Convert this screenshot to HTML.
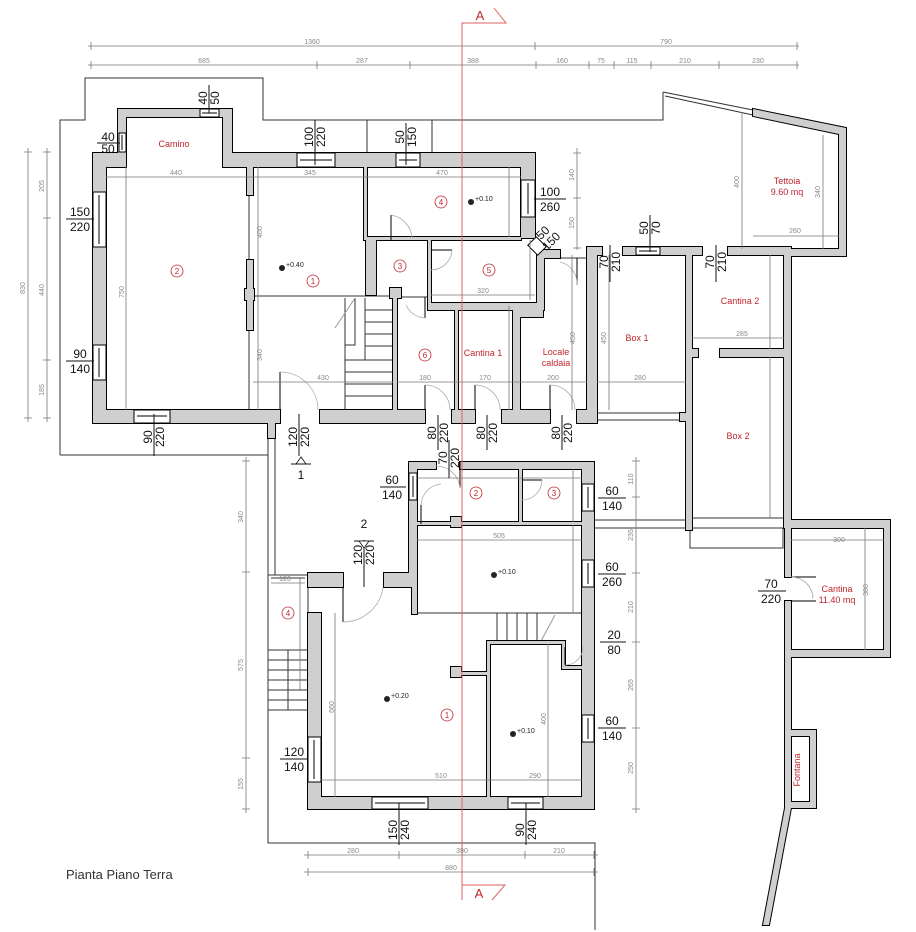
<!DOCTYPE html>
<html><head><meta charset="utf-8"><style>
html,body{margin:0;padding:0;background:#fff;}
svg{display:block;}
text{font-family:"Liberation Sans",sans-serif;}
.d{fill:#888;font-size:7px;text-anchor:middle;}
.f{fill:#111;font-size:12px;text-anchor:middle;}
.r{fill:#c0262c;font-size:9px;text-anchor:middle;}
.n{fill:#c0262c;font-size:8px;text-anchor:middle;}
</style></head><body>
<svg width="916" height="932" viewBox="0 0 916 932" xmlns="http://www.w3.org/2000/svg">
<defs>
<g id="wl">
<!-- upper block -->
<rect x="118" y="109" width="8" height="58"/><rect x="118" y="109" width="114" height="8"/><rect x="223" y="109" width="9" height="58"/>
<rect x="93" y="153" width="33" height="14"/><rect x="223" y="153" width="312" height="14"/>
<rect x="93" y="153" width="13" height="270"/>
<rect x="93" y="410" width="187" height="13"/><rect x="320" y="410" width="105" height="13"/><rect x="452" y="410" width="23" height="13"/><rect x="502" y="410" width="48" height="13"/><rect x="577" y="410" width="20" height="13"/>
<rect x="521" y="153" width="14" height="85"/>
<rect x="537" y="250" width="7" height="60"/>
<rect x="428" y="303" width="116" height="7"/>
<rect x="513" y="303" width="30" height="14"/>
<rect x="513" y="303" width="7" height="120"/>
<rect x="543" y="250" width="17" height="8"/>
<rect x="587" y="247" width="10" height="176"/>
<rect x="393" y="290" width="4" height="133"/><rect x="390" y="288" width="11" height="10"/>
<rect x="455" y="306" width="3" height="117"/>
<rect x="428" y="240" width="3" height="66"/>
<rect x="366" y="240" width="10" height="55"/>
<rect x="366" y="237" width="155" height="3"/>
<rect x="364" y="167" width="3" height="73"/>
<rect x="247" y="167" width="6" height="28"/><rect x="247" y="260" width="6" height="70"/><rect x="245" y="289" width="9" height="11"/>
<!-- right part -->
<rect x="597" y="247" width="5" height="8"/><rect x="623" y="247" width="79" height="8"/><rect x="728" y="247" width="63" height="8"/>
<rect x="686" y="247" width="6" height="283"/><rect x="784" y="247" width="7" height="281"/>
<rect x="686" y="349" width="12" height="8"/><rect x="720" y="349" width="64" height="8"/>
<rect x="577" y="413" width="20" height="10"/><rect x="680" y="413" width="12" height="8"/>
<rect x="785" y="520" width="105" height="8"/><rect x="884" y="520" width="6" height="137"/><rect x="785" y="650" width="105" height="7"/>
<rect x="785" y="520" width="6" height="57"/><rect x="785" y="601" width="6" height="207"/>
<rect x="785" y="730" width="31" height="6"/><rect x="810" y="730" width="6" height="78"/><rect x="785" y="802" width="31" height="6"/>
<polygon points="785,808 791,808 769,925 763,925"/>
<polygon points="753,109 846,128 846,256 790,256 790,249 839,249 839,134 753,116"/>
<!-- lower block -->
<rect x="409" y="462" width="27" height="7"/><rect x="460" y="462" width="134" height="7"/>
<rect x="409" y="462" width="8" height="125"/><rect x="412" y="587" width="5" height="27"/>
<rect x="582" y="462" width="12" height="347"/>
<rect x="308" y="797" width="286" height="12"/>
<rect x="308" y="613" width="13" height="196"/>
<rect x="308" y="573" width="35" height="14"/><rect x="384" y="573" width="33" height="14"/>
<rect x="417" y="522" width="165" height="3"/><rect x="451" y="517" width="10" height="10"/>
<rect x="519" y="469" width="3" height="55"/>
<rect x="487" y="641" width="75" height="3"/><rect x="562" y="641" width="3" height="28"/><rect x="562" y="666" width="20" height="3"/>
<rect x="487" y="644" width="3" height="153"/><rect x="451" y="667" width="10" height="10"/><rect x="461" y="672" width="29" height="3"/>
<rect x="268" y="423" width="7" height="15"/>
</g>
</defs>
<!-- outline lines -->
<g fill="none" stroke="#333" stroke-width="1">
<polyline points="60,455 60,120 85,120 85,78 263,78 263,120 663,120 663,92"/>
<line x1="367" y1="120" x2="367" y2="153"/><line x1="432" y1="120" x2="432" y2="153"/>
<line x1="60" y1="455" x2="268" y2="455"/>
<polyline points="268,423 268,843 595,843 595,930"/>
<line x1="275" y1="423" x2="275" y2="575"/>
<line x1="663" y1="92" x2="753" y2="110"/><line x1="665" y1="96" x2="753" y2="115"/>
<line x1="594" y1="520" x2="686" y2="520"/><line x1="594" y1="528" x2="686" y2="528"/>
<rect x="690" y="528" width="93" height="20"/>
<line x1="692" y1="518" x2="784" y2="518"/>
<line x1="597" y1="413" x2="686" y2="413"/><line x1="597" y1="420" x2="686" y2="420"/>
<line x1="253" y1="296" x2="393" y2="296"/><line x1="249" y1="195" x2="249" y2="410"/>
<line x1="397" y1="297" x2="428" y2="297"/>
<line x1="417" y1="613" x2="487" y2="613"/><line x1="487" y1="613" x2="594" y2="613"/>
<line x1="560" y1="258" x2="587" y2="258"/>
<!-- stairs upper -->
<polyline points="345,298 345,410"/><polyline points="355,298 355,345 345,345"/>
<line x1="365" y1="298" x2="365" y2="360"/><line x1="345" y1="360" x2="393" y2="360"/>
<line x1="345" y1="372" x2="393" y2="372"/><line x1="345" y1="384" x2="393" y2="384"/><line x1="345" y1="396" x2="393" y2="396"/>
<line x1="365" y1="310" x2="393" y2="310"/><line x1="365" y1="322" x2="393" y2="322"/><line x1="365" y1="334" x2="393" y2="334"/><line x1="365" y1="346" x2="393" y2="346"/>
<line x1="335" y1="328" x2="355" y2="298" stroke="#999"/>
<!-- stairs lower -->
<line x1="497" y1="613" x2="497" y2="643"/><line x1="507" y1="613" x2="507" y2="643"/><line x1="517" y1="613" x2="517" y2="643"/><line x1="527" y1="613" x2="527" y2="643"/><line x1="537" y1="613" x2="537" y2="643"/>
<line x1="540" y1="643" x2="555" y2="615" stroke="#999"/>
<!-- stair 4 -->
<rect x="268" y="575" width="40" height="135"/>
<line x1="271" y1="578" x2="305" y2="578"/>
<line x1="268" y1="650" x2="308" y2="650"/><line x1="268" y1="660" x2="308" y2="660"/><line x1="268" y1="670" x2="308" y2="670"/><line x1="268" y1="680" x2="308" y2="680"/><line x1="268" y1="690" x2="308" y2="690"/><line x1="268" y1="700" x2="308" y2="700"/>
<line x1="288" y1="650" x2="288" y2="710"/>
</g>
<!-- walls -->
<g fill="#cfcfcf" stroke="#000" stroke-width="2"><use href="#wl"/></g>
<g fill="#cfcfcf" stroke="none"><use href="#wl"/></g>
<!-- windows -->
<g fill="#fff" stroke="#000" stroke-width="1">
<rect x="200" y="109" width="19" height="8"/><rect x="119" y="133" width="7" height="19"/>
<rect x="297" y="153" width="38" height="14"/><rect x="396" y="153" width="24" height="14"/>
<rect x="521" y="180" width="14" height="37"/>
<rect x="93" y="192" width="13" height="55"/><rect x="93" y="345" width="13" height="35"/>
<rect x="134" y="410" width="36" height="13"/>
<rect x="636" y="247" width="24" height="8"/>
<rect x="409" y="473" width="8" height="27"/>
<rect x="582" y="484" width="12" height="27"/><rect x="582" y="560" width="12" height="27"/><rect x="582" y="715" width="12" height="27"/>
<rect x="308" y="737" width="13" height="45"/>
<rect x="372" y="797" width="56" height="12"/><rect x="508" y="797" width="35" height="12"/>
<rect x="530" y="240" width="14" height="12" transform="rotate(45 537 246)"/>
</g>
<g stroke="#000" stroke-width="1">
<line x1="202" y1="113" x2="217" y2="113"/><line x1="122" y1="135" x2="122" y2="150"/>
<line x1="300" y1="160" x2="332" y2="160"/><line x1="399" y1="160" x2="417" y2="160"/>
<line x1="528" y1="183" x2="528" y2="214"/><line x1="99" y1="195" x2="99" y2="244"/><line x1="99" y1="348" x2="99" y2="377"/>
<line x1="137" y1="416" x2="167" y2="416"/><line x1="639" y1="251" x2="657" y2="251"/>
<line x1="413" y1="476" x2="413" y2="497"/><line x1="588" y1="487" x2="588" y2="508"/><line x1="588" y1="563" x2="588" y2="584"/><line x1="588" y1="718" x2="588" y2="739"/>
<line x1="314" y1="740" x2="314" y2="779"/><line x1="375" y1="803" x2="425" y2="803"/><line x1="511" y1="803" x2="540" y2="803"/>
<!-- door leaves -->
<line x1="280" y1="410" x2="280" y2="372"/><line x1="425" y1="410" x2="425" y2="385"/><line x1="475" y1="410" x2="475" y2="385"/><line x1="550" y1="410" x2="550" y2="385"/>
<line x1="391" y1="240" x2="391" y2="215"/><line x1="431" y1="250" x2="452" y2="250"/><line x1="425" y1="297" x2="425" y2="318"/>
<line x1="577" y1="258" x2="577" y2="285"/><line x1="343" y1="587" x2="343" y2="622"/><line x1="421" y1="505" x2="421" y2="524"/>
<line x1="522" y1="480" x2="542" y2="480"/><line x1="460" y1="462" x2="460" y2="488"/><line x1="565" y1="647" x2="565" y2="665"/>
<line x1="791" y1="577" x2="816" y2="577"/><line x1="791" y1="601" x2="816" y2="601"/>
</g>
<g fill="none" stroke="#aaa" stroke-width="0.8">
<path d="M280,372 A38,38 0 0 1 318,410"/><path d="M425,385 A25,25 0 0 1 450,410"/><path d="M475,385 A25,25 0 0 1 500,410"/><path d="M550,385 A25,25 0 0 1 575,410"/>
<path d="M391,215 A25,25 0 0 1 412,238"/><path d="M452,250 A21,21 0 0 1 431,270"/><path d="M425,318 A22,22 0 0 1 406,305"/>
<path d="M577,285 A22,22 0 0 0 560,262"/><path d="M343,622 A40,40 0 0 0 383,587"/><path d="M421,505 A22,22 0 0 1 441,484"/>
<path d="M542,480 A20,20 0 0 1 522,500"/><path d="M460,488 A24,24 0 0 0 436,466"/><path d="M565,665 A18,18 0 0 0 583,647"/><path d="M791,577 A22,22 0 0 1 813,599"/>
</g>
<!-- section line A -->
<g stroke="#e06060" stroke-width="1" fill="none">
<polyline points="462,900 462,23 506,23 494,8"/><polyline points="462,885 505,885 492,900"/>
</g>
<text x="480" y="20" fill="#c0262c" font-size="13" text-anchor="middle">A</text>
<text x="479" y="898" fill="#c0262c" font-size="13" text-anchor="middle">A</text>
<!-- dimension lines -->
<g stroke="#777" stroke-width="0.8" fill="none">
<line x1="88" y1="46" x2="799" y2="46"/><line x1="88" y1="65" x2="799" y2="65"/>
<path d="M91,42v8M535,42v8M797,42v8M91,61v8M317,61v8M410,61v8M536,61v8M589,61v8M614,61v8M651,61v8M719,61v8M797,61v8"/>
<line x1="28" y1="148" x2="28" y2="422"/><line x1="47" y1="148" x2="47" y2="422"/>
<path d="M24,152h8M24,418h8M43,152h8M43,218h8M43,360h8M43,418h8"/>
<line x1="577" y1="148" x2="577" y2="250"/><path d="M573,153h8M573,198h8M573,248h8"/>
<line x1="246" y1="457" x2="246" y2="813"/><path d="M242,461h8M242,572h8M242,758h8M242,809h8"/>
<line x1="636" y1="457" x2="636" y2="813"/><path d="M632,461h8M632,497h8M632,573h8M632,642h8M632,728h8M632,809h8"/>
<line x1="304" y1="855" x2="598" y2="855"/><line x1="304" y1="872" x2="598" y2="872"/>
<path d="M308,851v8M399,851v8M525,851v8M594,851v8M308,868v8M594,868v8"/>
<!-- interior dims -->
<line x1="106" y1="177" x2="521" y2="177"/><line x1="253" y1="382" x2="393" y2="382"/><line x1="397" y1="382" x2="587" y2="382"/><line x1="597" y1="382" x2="686" y2="382"/>
<line x1="431" y1="295" x2="535" y2="295"/><line x1="692" y1="338" x2="784" y2="338"/>
<line x1="126" y1="167" x2="126" y2="410"/><line x1="258" y1="167" x2="258" y2="410"/><line x1="509" y1="167" x2="509" y2="237"/>
<line x1="609" y1="255" x2="609" y2="410"/><line x1="572" y1="255" x2="572" y2="410"/><line x1="509" y1="306" x2="509" y2="410"/><line x1="530" y1="240" x2="530" y2="300"/>
<line x1="742" y1="112" x2="742" y2="249"/><line x1="823" y1="135" x2="823" y2="249"/><line x1="753" y1="236" x2="839" y2="236"/>
<line x1="770" y1="255" x2="770" y2="349"/><line x1="770" y1="357" x2="770" y2="518"/>
<line x1="417" y1="540" x2="582" y2="540"/><line x1="417" y1="478" x2="582" y2="478"/><line x1="573" y1="469" x2="573" y2="522"/><line x1="573" y1="525" x2="573" y2="613"/>
<line x1="335" y1="613" x2="335" y2="797"/><line x1="321" y1="780" x2="582" y2="780"/><line x1="548" y1="644" x2="548" y2="797"/>
<line x1="271" y1="583" x2="305" y2="583"/><line x1="300" y1="578" x2="300" y2="690"/>
<line x1="791" y1="540" x2="884" y2="540"/><line x1="865" y1="528" x2="865" y2="650"/>
</g>
<g class="d">
<text x="312" y="44">1360</text><text x="666" y="44">790</text>
<text x="204" y="63">685</text><text x="362" y="63">287</text><text x="473" y="63">388</text><text x="562" y="63">160</text><text x="601" y="63">75</text><text x="632" y="63">115</text><text x="685" y="63">210</text><text x="758" y="63">230</text>
<text x="25" y="288" transform="rotate(-90 25 288)">830</text>
<text x="44" y="186" transform="rotate(-90 44 186)">205</text><text x="44" y="290" transform="rotate(-90 44 290)">440</text><text x="44" y="390" transform="rotate(-90 44 390)">185</text>
<text x="574" y="175" transform="rotate(-90 574 175)">140</text><text x="574" y="223" transform="rotate(-90 574 223)">150</text>
<text x="243" y="517" transform="rotate(-90 243 517)">340</text><text x="243" y="665" transform="rotate(-90 243 665)">575</text><text x="243" y="784" transform="rotate(-90 243 784)">155</text>
<text x="633" y="479" transform="rotate(-90 633 479)">110</text><text x="633" y="535" transform="rotate(-90 633 535)">235</text><text x="633" y="607" transform="rotate(-90 633 607)">210</text><text x="633" y="685" transform="rotate(-90 633 685)">265</text><text x="633" y="768" transform="rotate(-90 633 768)">250</text>
<text x="353" y="853">280</text><text x="462" y="853">390</text><text x="559" y="853">210</text><text x="451" y="870">880</text>
<text x="176" y="175">440</text><text x="310" y="175">345</text><text x="442" y="175">470</text>
<text x="323" y="380">430</text><text x="425" y="380">180</text><text x="485" y="380">170</text><text x="553" y="380">200</text><text x="640" y="380">280</text>
<text x="483" y="293">320</text><text x="742" y="336">285</text><text x="795" y="233">260</text>
<text x="499" y="538">505</text><text x="285" y="581">120</text><text x="441" y="778">510</text><text x="535" y="778">290</text><text x="839" y="542">300</text>
<text x="124" y="292" transform="rotate(-90 124 292)">750</text><text x="262" y="232" transform="rotate(-90 262 232)">400</text><text x="262" y="355" transform="rotate(-90 262 355)">340</text>
<text x="606" y="338" transform="rotate(-90 606 338)">450</text><text x="575" y="338" transform="rotate(-90 575 338)">450</text><text x="739" y="182" transform="rotate(-90 739 182)">400</text><text x="820" y="192" transform="rotate(-90 820 192)">340</text>
<text x="334" y="707" transform="rotate(-90 334 707)">660</text><text x="546" y="719" transform="rotate(-90 546 719)">400</text><text x="868" y="590" transform="rotate(-90 868 590)">380</text>
</g>
<!-- window fractions -->
<g class="f" stroke="none">
<g transform="translate(209,98) rotate(-90)"><text x="0" y="-2">40</text><text x="0" y="10">50</text></g>
<g transform="translate(315,137) rotate(-90)"><text x="0" y="-2">100</text><text x="0" y="10">220</text></g>
<g transform="translate(406,137) rotate(-90)"><text x="0" y="-2">50</text><text x="0" y="10">150</text></g>
<g transform="translate(650,228) rotate(-90)"><text x="0" y="-2">50</text><text x="0" y="10">70</text></g>
<g transform="translate(610,262) rotate(-90)"><text x="0" y="-2">70</text><text x="0" y="10">210</text></g>
<g transform="translate(716,262) rotate(-90)"><text x="0" y="-2">70</text><text x="0" y="10">210</text></g>
<g transform="translate(154,437) rotate(-90)"><text x="0" y="-2">90</text><text x="0" y="10">220</text></g>
<g transform="translate(299,437) rotate(-90)"><text x="0" y="-2">120</text><text x="0" y="10">220</text></g>
<g transform="translate(438,433) rotate(-90)"><text x="0" y="-2">80</text><text x="0" y="10">220</text></g>
<g transform="translate(449,458) rotate(-90)"><text x="0" y="-2">70</text><text x="0" y="10">220</text></g>
<g transform="translate(487,433) rotate(-90)"><text x="0" y="-2">80</text><text x="0" y="10">220</text></g>
<g transform="translate(562,433) rotate(-90)"><text x="0" y="-2">80</text><text x="0" y="10">220</text></g>
<g transform="translate(364,555) rotate(-90)"><text x="0" y="-2">120</text><text x="0" y="10">220</text></g>
<g transform="translate(399,830) rotate(-90)"><text x="0" y="-2">150</text><text x="0" y="10">240</text></g>
<g transform="translate(526,830) rotate(-90)"><text x="0" y="-2">90</text><text x="0" y="10">240</text></g>
<g transform="translate(547,237) rotate(-45)"><text x="0" y="-2">50</text><text x="0" y="10">150</text></g>
<text x="108" y="141">40</text><text x="108" y="153">50</text>
<text x="80" y="216">150</text><text x="80" y="231">220</text>
<text x="80" y="358">90</text><text x="80" y="373">140</text>
<text x="550" y="196">100</text><text x="550" y="211">260</text>
<text x="392" y="484">60</text><text x="392" y="499">140</text>
<text x="294" y="756">120</text><text x="294" y="771">140</text>
<text x="612" y="495">60</text><text x="612" y="510">140</text>
<text x="612" y="571">60</text><text x="612" y="586">260</text>
<text x="614" y="639">20</text><text x="614" y="654">80</text>
<text x="612" y="725">60</text><text x="612" y="740">140</text>
<text x="771" y="588">70</text><text x="771" y="603">220</text>
<text x="301" y="479">1</text><text x="364" y="528">2</text>
</g>
<g stroke="#111" stroke-width="1">
<line x1="97" y1="143" x2="120" y2="143"/><line x1="66" y1="219" x2="94" y2="219"/><line x1="66" y1="361" x2="94" y2="361"/><line x1="534" y1="199" x2="566" y2="199"/>
<line x1="380" y1="487" x2="406" y2="487"/><line x1="280" y1="759" x2="308" y2="759"/><line x1="598" y1="498" x2="626" y2="498"/><line x1="598" y1="574" x2="626" y2="574"/>
<line x1="600" y1="642" x2="626" y2="642"/><line x1="598" y1="728" x2="626" y2="728"/><line x1="758" y1="591" x2="786" y2="591"/>
<line x1="209" y1="85" x2="209" y2="113"/><line x1="315" y1="120" x2="315" y2="165"/><line x1="406" y1="123" x2="406" y2="165"/><line x1="650" y1="215" x2="650" y2="252"/>
<line x1="610" y1="245" x2="610" y2="282"/><line x1="716" y1="245" x2="716" y2="282"/><line x1="154" y1="414" x2="154" y2="456"/><line x1="299" y1="414" x2="299" y2="456"/>
<line x1="438" y1="415" x2="438" y2="450"/><line x1="487" y1="415" x2="487" y2="450"/><line x1="562" y1="415" x2="562" y2="450"/><line x1="449" y1="440" x2="449" y2="478"/>
<line x1="364" y1="540" x2="364" y2="587"/><line x1="399" y1="803" x2="399" y2="845"/><line x1="526" y1="803" x2="526" y2="845"/>
<line x1="291" y1="464" x2="311" y2="464"/><line x1="354" y1="541" x2="374" y2="541"/>
</g>
<polygon points="296,464 306,464 301,457" fill="none" stroke="#111" stroke-width="0.8"/>
<polygon points="359,541 369,541 364,548" fill="#fff" stroke="#111" stroke-width="0.8"/>
<!-- room numbers -->
<g fill="none" stroke="#c0262c" stroke-width="0.8">
<circle cx="177" cy="271" r="6"/><circle cx="313" cy="281" r="6"/><circle cx="441" cy="202" r="6"/><circle cx="400" cy="266" r="6"/><circle cx="489" cy="270" r="6"/><circle cx="425" cy="355" r="6"/>
<circle cx="476" cy="493" r="6"/><circle cx="554" cy="493" r="6"/><circle cx="447" cy="715" r="6"/><circle cx="288" cy="613" r="6"/>
</g>
<g class="n">
<text x="177" y="274">2</text><text x="313" y="284">1</text><text x="441" y="205">4</text><text x="400" y="269">3</text><text x="489" y="273">5</text><text x="425" y="358">6</text>
<text x="476" y="496">2</text><text x="554" y="496">3</text><text x="447" y="718">1</text><text x="288" y="616">4</text>
</g>
<g class="r">
<text x="174" y="147">Camino</text>
<text x="787" y="184">Tettoia</text><text x="787" y="195">9.60 mq</text>
<text x="740" y="304">Cantina 2</text><text x="637" y="341">Box 1</text>
<text x="556" y="355">Locale</text><text x="556" y="366">caldaia</text>
<text x="483" y="356">Cantina 1</text><text x="738" y="439">Box 2</text>
<text x="837" y="592">Cantina</text><text x="837" y="603">11.40 mq</text>
<text x="800" y="770" transform="rotate(-90 800 770)">Fontana</text>
</g>
<!-- level markers -->
<g font-size="7" fill="#222">
<circle cx="282" cy="268" r="3"/><text x="286" y="267">+0.40</text>
<circle cx="471" cy="202" r="3"/><text x="475" y="201">+0.10</text>
<circle cx="494" cy="575" r="3"/><text x="498" y="574">+0.10</text>
<circle cx="387" cy="699" r="3"/><text x="391" y="698">+0.20</text>
<circle cx="513" cy="734" r="3"/><text x="517" y="733">+0.10</text>
</g>
<text x="66" y="879" font-size="13" fill="#333">Pianta Piano Terra</text>
</svg>
</body></html>
